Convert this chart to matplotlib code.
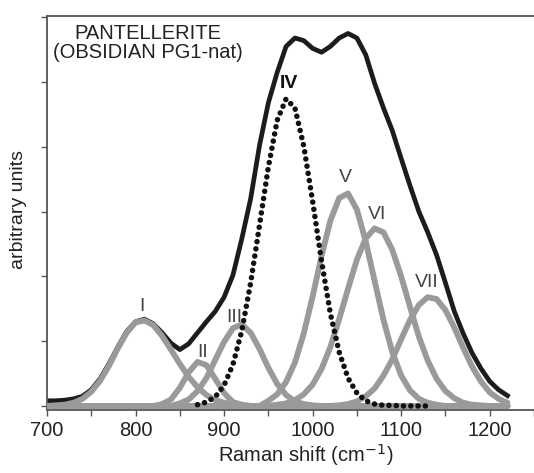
import numpy as np
import matplotlib
matplotlib.use('Agg')
import matplotlib.pyplot as plt

plt.rcParams['font.family'] = ['Liberation Sans', 'DejaVu Sans']

# Raman shift grid (cm-1), values every 10 cm-1
shift = np.arange(700, 1230, 10)

total = [0.08, 0.08, 0.09, 0.11, 0.15, 0.25, 0.42, 0.65, 0.91, 1.15,
         1.30, 1.34, 1.27, 1.13, 0.97, 0.87, 0.96, 1.13, 1.30, 1.46,
         1.68, 2.02, 2.58, 3.20, 4.02, 4.68, 5.15, 5.55, 5.68, 5.64,
         5.52, 5.46, 5.55, 5.68, 5.75, 5.68, 5.42, 4.98, 4.60, 4.25,
         3.82, 3.40, 3.00, 2.68, 2.33, 1.90, 1.46, 1.12, 0.82, 0.58,
         0.38, 0.25, 0.16]

band_1 = [0.00, 0.01, 0.02, 0.05, 0.11, 0.22, 0.39, 0.62, 0.89, 1.13,
          1.29, 1.32, 1.25, 1.08, 0.87, 0.65, 0.45, 0.29, 0.17, 0.09,
          0.05, 0.02, 0.01] + [0.0] * 30

band_2 = [0.0] * 13 + [0.03, 0.10, 0.28, 0.52, 0.68, 0.63, 0.42, 0.20,
                       0.06, 0.02] + [0.0] * 30

band_3 = [0.0] * 15 + [0.04, 0.10, 0.23, 0.43, 0.71, 0.99, 1.20, 1.26,
                       1.13, 0.88, 0.59, 0.34, 0.17, 0.07, 0.03,
                       0.01] + [0.0] * 22

band_4 = [np.nan] * 17 + [0.02, 0.06, 0.14, 0.32, 0.64, 1.16, 1.90, 2.79,
                          3.69, 4.41, 4.74, 4.60, 4.01, 3.16, 2.24, 1.43,
                          0.83, 0.43, 0.20, 0.08, 0.03, 0.01, 0.01, 0.0,
                          0.0, 0.0, 0.0] + [np.nan] * 9

band_5 = [0.0] * 25 + [0.08, 0.18, 0.37, 0.67, 1.12, 1.69, 2.31, 2.86,
                       3.21, 3.28, 3.03, 2.54, 1.93, 1.33, 0.83, 0.47,
                       0.24, 0.11, 0.05, 0.02] + [0.0] * 8

band_6 = [0.0] * 26 + [0.02, 0.04, 0.09, 0.18, 0.33, 0.57, 0.91, 1.34,
                       1.81, 2.26, 2.59, 2.74, 2.68, 2.41, 2.00, 1.53,
                       1.07, 0.70, 0.42, 0.23, 0.12, 0.05, 0.02,
                       0.01] + [0.0] * 3

band_7 = [0.0] * 33 + [0.01, 0.03, 0.07, 0.15, 0.27, 0.47, 0.72, 1.03,
                       1.33, 1.56, 1.68, 1.65, 1.48, 1.21, 0.90, 0.61,
                       0.38, 0.21, 0.11, 0.05]

band_labels = ['I', 'II', 'III', 'IV', 'V', 'VI', 'VII']
label_x = [807, 876, 912, 973, 1037, 1073, 1129]
label_y = [1.54, 0.83, 1.36, 4.98, 3.52, 2.95, 1.9]

fig = plt.figure(figsize=(5.34, 4.73), dpi=100)
ax = fig.add_axes([0.088, 0.1332, 0.912, 0.833])

gray = '#9a9a9a'
ax.plot(shift, total, color='#1c1c1c', lw=3.4, zorder=2)
for band in [band_1, band_2, band_3, band_5, band_6, band_7]:
    ax.plot(shift, band, color=gray, lw=4.2, solid_capstyle='round', zorder=3)
ax.plot(shift, band_4, color='#111111', lw=4.0, linestyle=(0, (0.01, 1.3)),
        dash_capstyle='round', zorder=4)

for lab, lx, ly in zip(band_labels, label_x, label_y):
    if lab == 'IV':
        ax.text(lx, ly, lab, ha='center', va='center', fontsize=14,
                fontweight='bold', color='#111111', zorder=5)
    else:
        ax.text(lx, ly, lab, ha='center', va='center', fontsize=14,
                color='#444444', zorder=5)

ax.set_xlim(700, 1241)
ax.set_ylim(-0.062, 6.02)
ax.set_xticks(range(700, 1201, 100))
ax.set_xticks(range(750, 1251, 100), minor=True)
ax.set_yticks(range(0, 7))
ax.tick_params(axis='x', which='both', direction='out', length=4, width=1,
               color='#555555', pad=4, labelsize=14.5, labelcolor='#222222')
ax.tick_params(axis='y', direction='out', length=4, width=1,
               color='#555555', labelleft=False)
ax.spines['right'].set_visible(False)
for s in ['left', 'top', 'bottom']:
    ax.spines[s].set_color('#555555')
    ax.spines[s].set_linewidth(1.3)

fig.text(306 / 534, 1 - 455 / 473, 'Raman shift (cm$^{-1}$)', ha='center',
         va='center', fontsize=14.5, color='#222222')
fig.text(19 / 534, 1 - 209 / 473, 'arbitrary units', ha='center', va='center',
         rotation=90, fontsize=14, color='#222222')
fig.text(148 / 534, 1 - 43 / 473, 'PANTELLERITE\n(OBSIDIAN PG1-nat)',
         ha='center', va='center', multialignment='center', linespacing=1.0,
         fontsize=14.5, color='#222222')

fig.savefig('out.png', dpi=100)
